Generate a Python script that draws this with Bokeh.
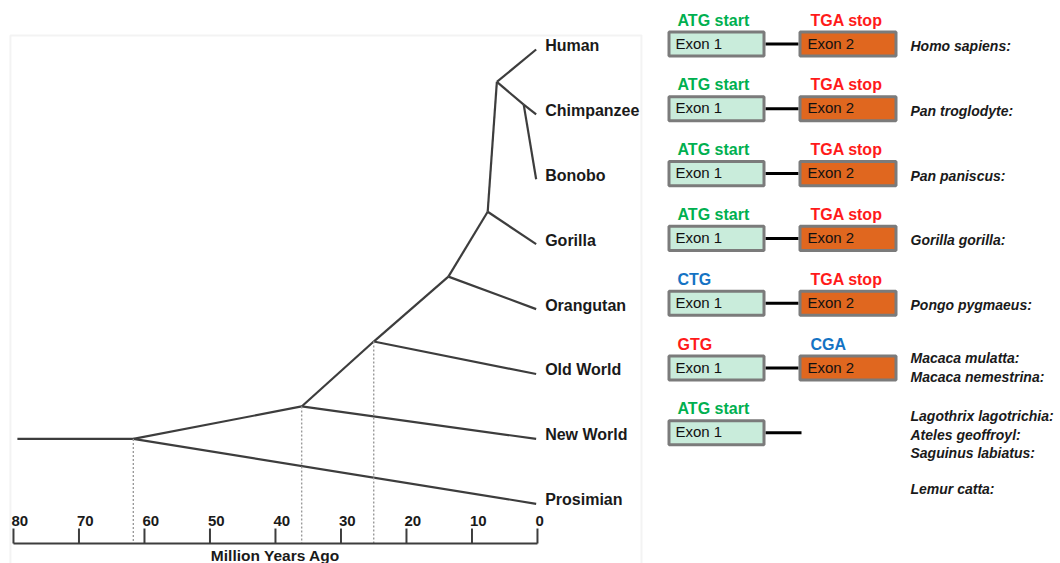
from bokeh.plotting import figure
from bokeh.models import Range1d, ColumnDataSource, BoxAnnotation
from bokeh.layouts import row
from bokeh.embed import file_html
from bokeh.resources import INLINE
from bokeh.core.properties import value

# ---------------- Primate phylogeny (ages in million years ago) ----------------
tip_names = ["Human", "Chimpanzee", "Bonobo", "Gorilla", "Orangutan",
             "Old World", "New World", "Prosimian"]
tip_rows = [0, 1, 2, 3, 4, 5, 6, 7]
tip_age = 0.2

node_ids = ["stem", "n1", "n2", "n3", "n4", "n5", "n6", "n7"]
node_ages = [79.4, 61.7, 36.0, 25.0, 13.6, 7.6, 6.2, 2.1]
node_rows = [6.0, 6.0, 5.5, 4.5, 3.5, 2.5, 0.5, 0.85]

edge_parent = ["stem", "n1", "n1", "n2", "n2", "n3", "n3", "n4", "n4",
               "n5", "n5", "n6", "n6", "n7", "n7"]
edge_child = ["n1", "n2", "Prosimian", "n3", "New World", "n4", "Old World",
              "n5", "Orangutan", "n6", "Gorilla", "Human", "n7",
              "Chimpanzee", "Bonobo"]

# divergence points that are projected onto the time scale
dated_nodes = ["n1", "n2", "n3"]

time_ticks = [80, 70, 60, 50, 40, 30, 20, 10, 0]
time_title = "Million Years Ago"

# ---------------- Gene structure per lineage ----------------
gene_rows = [0, 1, 2, 3, 4, 5, 6]
exon1_codon = ["ATG start", "ATG start", "ATG start", "ATG start", "CTG", "GTG", "ATG start"]
exon1_codon_kind = ["start", "start", "start", "start", "variant", "mutant", "start"]
exon2_codon = ["TGA stop", "TGA stop", "TGA stop", "TGA stop", "TGA stop", "CGA", ""]
exon2_codon_kind = ["stop", "stop", "stop", "stop", "stop", "variant", "none"]
has_exon2 = [True, True, True, True, True, True, False]

species_groups = [
    ["Homo sapiens:"],
    ["Pan troglodyte:"],
    ["Pan paniscus:"],
    ["Gorilla gorilla:"],
    ["Pongo pygmaeus:"],
    ["Macaca mulatta:", "Macaca nemestrina:"],
    ["Lagothrix lagotrichia:", "Ateles geoffroyl:", "Saguinus labiatus:"],
    ["Lemur catta:"],
]

# ---------------- styling ----------------
FONT = "Liberation Sans"
LINE = "#3d3d3d"
TEXT = "#1a1a1a"
codon_palette = {"start": "#00b050", "stop": "#ff1a1a", "variant": "#1473c4",
                 "mutant": "#ff1a1a", "none": "#ffffff"}
EXON1_FILL = "#c9ecdb"
EXON2_FILL = "#e0671f"
EXON_EDGE = "#7b7b7b"

# ======================= left panel: tree =======================
# 6.55 px per million years, 64.9 px per row
tree = figure(width=655, height=563, output_backend="svg", toolbar_location=None,
              x_range=Range1d(81.98, -18.02), y_range=Range1d(7.92, -0.755),
              x_axis_location=None, y_axis_location=None,
              min_border=0, background_fill_color="white",
              border_fill_color="white")
tree.grid.visible = False
tree.outline_line_color = None

# light panel border, open at the bottom
tree.add_layout(BoxAnnotation(left=80.46, right=-15.88, top=-0.216, bottom=8.6,
                              fill_color=None, line_color="#d6d6d6", line_width=2))

pos = {nid: (a, r) for nid, a, r in zip(node_ids, node_ages, node_rows)}
for name, r in zip(tip_names, tip_rows):
    pos[name] = (tip_age, r)

edges = ColumnDataSource(dict(
    x0=[pos[p][0] for p in edge_parent], y0=[pos[p][1] for p in edge_parent],
    x1=[pos[c][0] for c in edge_child], y1=[pos[c][1] for c in edge_child]))
tree.segment("x0", "y0", "x1", "y1", source=edges, line_color=LINE, line_width=2.2)

# time scale drawn beneath the tree
AXIS_ROW = 7.612
TICK_TOP = 7.381
tree.segment(x0=[pos[n][0] for n in dated_nodes], y0=[pos[n][1] for n in dated_nodes],
             x1=[pos[n][0] for n in dated_nodes], y1=[AXIS_ROW] * len(dated_nodes),
             line_color="#9a9a9a", line_width=1.4, line_dash="2 2")
tree.segment(x0=[max(time_ticks)], y0=[AXIS_ROW], x1=[min(time_ticks)], y1=[AXIS_ROW],
             line_color=LINE, line_width=2.2)
tree.segment(x0=time_ticks, y0=[AXIS_ROW] * len(time_ticks),
             x1=time_ticks, y1=[TICK_TOP] * len(time_ticks),
             line_color=LINE, line_width=2)
tree.text(x=time_ticks, y=[TICK_TOP] * len(time_ticks),
          text=[str(t) for t in time_ticks], x_offset=-2, y_offset=-3,
          text_align="left", text_baseline="bottom", text_font=value(FONT),
          text_font_style="bold", text_font_size="15px", text_color=TEXT)
tree.text(x=[sum(time_ticks) / len(time_ticks)], y=[AXIS_ROW], text=[time_title],
          y_offset=12, text_align="center", text_baseline="middle",
          text_font=value(FONT), text_font_style="bold", text_font_size="15.5px",
          text_color=TEXT)

tree.text(x=[tip_age] * len(tip_names), y=tip_rows, text=tip_names,
          x_offset=9, y_offset=-4, text_align="left", text_baseline="middle",
          text_font=value(FONT), text_font_style="bold", text_font_size="16px",
          text_color=TEXT)

# ======================= right panel: exon diagrams =======================
ROW0_PX, ROW_PX = 43.5, 64.8
genes = figure(width=405, height=563, output_backend="svg", toolbar_location=None,
               x_range=Range1d(655, 1060),
               y_range=Range1d((563 - ROW0_PX) / ROW_PX, -ROW0_PX / ROW_PX),
               x_axis_location=None, y_axis_location=None,
               min_border=0, background_fill_color="white",
               border_fill_color="white")
genes.grid.visible = False
genes.outline_line_color = None

EX1 = (667, 765)
EX2 = (798, 897)
HALF_H = 0.186
INTRON_STUB = 801

ex2_rows = [r for r, h in zip(gene_rows, has_exon2) if h]

# introns
genes.segment(x0=[EX1[1]] * len(gene_rows), y0=gene_rows,
              x1=[EX2[0] if h else INTRON_STUB for h in has_exon2], y1=gene_rows,
              line_color="black", line_width=3)

genes.quad(left=[EX1[0] + 1.5] * len(gene_rows), right=[EX1[1] - 1.5] * len(gene_rows),
           top=[r - HALF_H for r in gene_rows], bottom=[r + HALF_H for r in gene_rows],
           fill_color=EXON1_FILL, line_color=EXON_EDGE, line_width=3)
genes.quad(left=[EX2[0] + 1.5] * len(ex2_rows), right=[EX2[1] - 1.5] * len(ex2_rows),
           top=[r - HALF_H for r in ex2_rows], bottom=[r + HALF_H for r in ex2_rows],
           fill_color=EXON2_FILL, line_color=EXON_EDGE, line_width=3)

genes.text(x=[EX1[0] + 8] * len(gene_rows), y=gene_rows, text=["Exon 1"] * len(gene_rows),
           y_offset=-1, text_align="left", text_baseline="middle", text_font=value(FONT),
           text_font_size="15px", text_color="#111111")
genes.text(x=[EX2[0] + 9] * len(ex2_rows), y=ex2_rows, text=["Exon 2"] * len(ex2_rows),
           y_offset=-1, text_align="left", text_baseline="middle", text_font=value(FONT),
           text_font_size="15px", text_color="#111111")

# codon annotations above the exons
genes.text(x=[EX1[0] + 10] * len(gene_rows), y=gene_rows, text=exon1_codon,
           y_offset=-24, text_align="left", text_baseline="middle",
           text_font=value(FONT), text_font_style="bold", text_font_size="16px",
           text_color=[codon_palette[k] for k in exon1_codon_kind])
lab2 = [(r, t, k) for r, t, k in zip(gene_rows, exon2_codon, exon2_codon_kind) if t]
genes.text(x=[EX2[0] + 12] * len(lab2), y=[l[0] for l in lab2], text=[l[1] for l in lab2],
           y_offset=-24, text_align="left", text_baseline="middle",
           text_font=value(FONT), text_font_style="bold", text_font_size="16px",
           text_color=[codon_palette[l[2]] for l in lab2])

# species names, one block per lineage
group_anchor = [0.03, 1.03, 2.03, 3.03, 4.03, 4.99, 6.03, 6.86]
LINE_STEP = 0.287
name_x, name_y, name_t = [], [], []
for anchor, names in zip(group_anchor, species_groups):
    n = len(names)
    for j, nm in enumerate(names):
        name_x.append(910)
        name_y.append(anchor + (j - (n - 1) / 2) * LINE_STEP)
        name_t.append(nm)
genes.text(x=name_x, y=name_y, text=name_t, text_align="left", text_baseline="middle",
           text_font=value(FONT), text_font_style="bold italic", text_font_size="14px",
           text_color=TEXT)

layout = row(tree, genes)
open("out.html", "w").write(file_html(layout, INLINE))
